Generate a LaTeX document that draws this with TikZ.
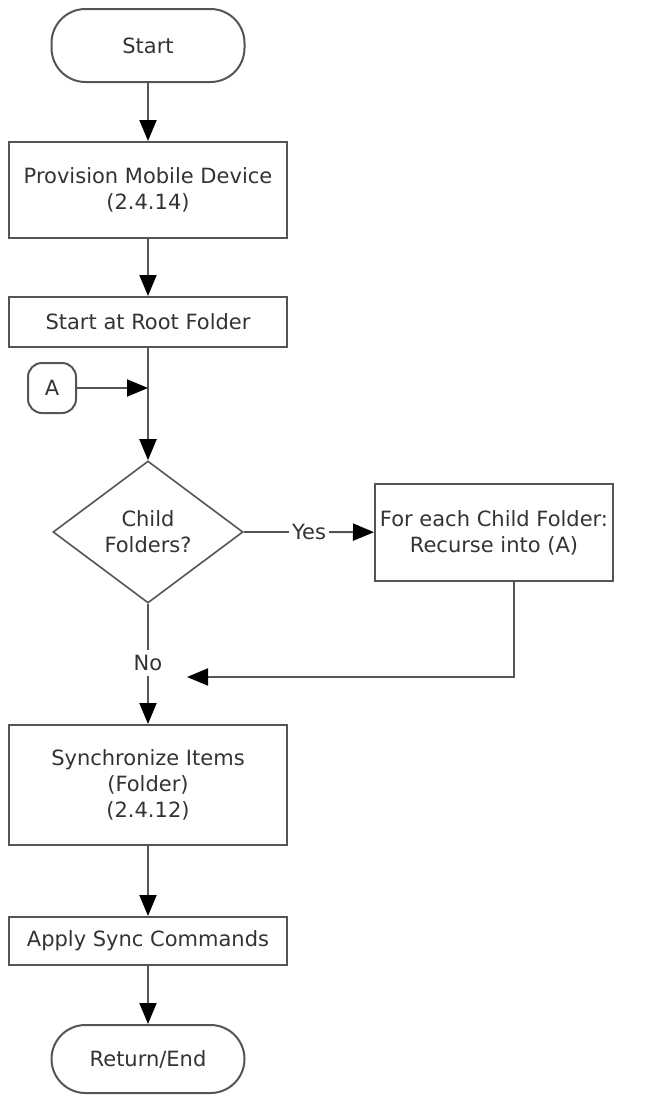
\documentclass[tikz,border=0pt]{standalone}
\usepackage{fontspec}
\setmainfont{DejaVu Sans}
\usepackage{xcolor}
\usetikzlibrary{arrows.meta,shapes.geometric}
\definecolor{flowline}{RGB}{85,85,85}
\definecolor{flowtext}{RGB}{51,51,51}

\begin{document}
\begin{tikzpicture}[x=1pt,y=-1pt,
  every node/.style={text=flowtext,font=\fontsize{21}{26}\selectfont,align=center,inner sep=0pt},
  proc/.style={draw=flowline,line width=2pt,minimum width=278pt},
  term/.style={draw=flowline,line width=2pt,rounded corners=34pt,minimum width=193pt,minimum height=73pt},
  decision/.style={draw=flowline,line width=1.6pt,diamond,aspect=1.34,minimum width=190pt,minimum height=142pt},
  flow/.style={draw=flowline,line width=2pt,-{Triangle[length=21pt,width=17pt,color=black]}},
  wire/.style={draw=flowline,line width=2pt}]
\useasboundingbox (0,0) rectangle (645,1095);
% main column
\node[term] (start) at (148,45.5) {Start};
\node[proc,minimum height=96pt] (provision) at (148,190) {Provision Mobile Device\\(2.4.14)};
\node[proc,minimum height=50pt] (root) at (148,322) {Start at Root Folder};
\node[draw=flowline,line width=2pt,rounded corners=14pt,minimum width=48pt,minimum height=50pt] (conA) at (52,388) {A};
\coordinate (join) at (148,388);
\node[decision] (child) at (148,532) {Child\\Folders?};
\node[inner sep=3pt] (yes) at (309,532) {Yes};
\node[proc,minimum width=238pt,minimum height=97pt] (recurse) at (494,532.5) {For each Child Folder:\\Recurse into (A)};
\node[inner sep=5pt] (no) at (148,663) {No};
\coordinate (merge) at (187,677);
\node[proc,minimum height=120pt] (sync) at (148,785) {Synchronize Items\\(Folder)\\(2.4.12)};
\node[proc,minimum height=48pt] (apply) at (148,941) {Apply Sync Commands};
\node[term,minimum height=68pt] (end) at (148,1059) {Return/End};
% connectors
\draw[flow] (start) -- (provision);
\draw[flow] (provision) -- (root);
\draw[flow] (root) -- (child);
\draw[flow] (conA) -- (join);
\draw[wire] (child) -- (yes);
\draw[flow] (yes) -- (recurse);
\draw[flow] ([xshift=20pt]recurse.south) |- (merge);
\draw[wire] (child) -- (no);
\draw[flow] (no) -- (sync);
\draw[flow] (sync) -- (apply);
\draw[flow] (apply) -- (end);
\end{tikzpicture}
\end{document}
